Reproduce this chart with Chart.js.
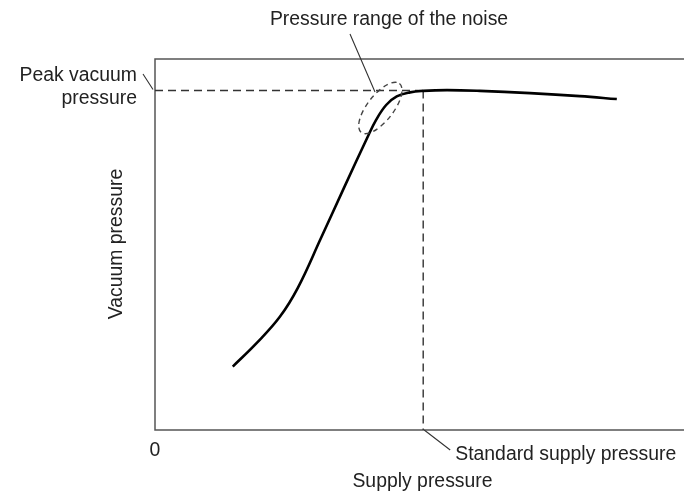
<!DOCTYPE html>
<html>
<head>
<meta charset="utf-8">
<script src="https://cdn.jsdelivr.net/npm/chart.js@4.4.0/dist/chart.umd.min.js"></script>
<style>
  html, body { margin: 0; padding: 0; background: #fff; }
  #wrap { width: 684px; height: 495px; }
</style>
</head>
<body>
<div id="wrap"><canvas id="grafico"></canvas></div>
<script>
// Curva (unidades arbitrárias 0..10)
const supplyPressure = [1.47, 1.92, 2.36, 2.70, 3.14, 3.57, 4.01, 4.18, 4.37, 4.57, 4.82, 5.07, 5.52, 6.14, 7.09, 8.03, 8.73];
const vacuumPressure = [1.71, 2.34, 3.05, 3.83, 5.18, 6.52, 7.87, 8.36, 8.76, 8.99, 9.10, 9.14, 9.16, 9.14, 9.08, 9.00, 8.92];
const peakVacuum = 9.15;
const standardSupply = 5.07;
const noiseCenter = [4.26, 8.68];
const xRange = [0, 10];
const yRange = [0, 10];

const FONT = '19.4px "Liberation Sans", Arial, sans-serif';
const INK = '#222';

// desenha moldura, elipse do ruído e textos
const anotacoes = {
  id: 'anotacoes',
  beforeDatasetsDraw(chart) {
    const { ctx, chartArea: a } = chart;
    ctx.save();
    ctx.strokeStyle = '#555';
    ctx.lineWidth = 1.5;
    ctx.beginPath();
    ctx.moveTo(a.right, a.top);
    ctx.lineTo(a.left, a.top);
    ctx.lineTo(a.left, a.bottom);
    ctx.lineTo(a.right, a.bottom);
    ctx.stroke();
    ctx.restore();
  },
  afterDatasetsDraw(chart) {
    const { ctx, chartArea: a, scales: { x, y } } = chart;
    ctx.save();

    // elipse tracejada
    ctx.strokeStyle = '#444';
    ctx.lineWidth = 1.4;
    ctx.setLineDash([5, 4]);
    ctx.beginPath();
    ctx.ellipse(x.getPixelForValue(noiseCenter[0]), y.getPixelForValue(noiseCenter[1]), 31, 13, -52 * Math.PI / 180, 0, Math.PI * 2);
    ctx.stroke();
    ctx.setLineDash([]);

    // linhas de chamada
    ctx.strokeStyle = '#333';
    ctx.lineWidth = 1.1;
    const px = x.getPixelForValue(standardSupply);
    const py = y.getPixelForValue(peakVacuum);
    ctx.beginPath();
    ctx.moveTo(350, 34); ctx.lineTo(375, 92);
    ctx.moveTo(a.left - 12, 74); ctx.lineTo(a.left - 2, py - 1);
    ctx.moveTo(px + 1, a.bottom); ctx.lineTo(px + 27, a.bottom + 20);
    ctx.stroke();

    // textos
    ctx.fillStyle = INK;
    ctx.font = FONT;
    ctx.textBaseline = 'alphabetic';
    ctx.textAlign = 'center';
    ctx.fillText('Pressure range of the noise', 389, 25);
    ctx.fillText('Supply pressure', (a.left + a.right) / 2 + 3, 487);
    ctx.fillText('0', a.left, 456);
    ctx.textAlign = 'right';
    ctx.fillText('Peak vacuum', 137, 81);
    ctx.fillText('pressure', 137, 104);
    ctx.textAlign = 'left';
    ctx.fillText('Standard supply pressure', px + 32, 460);

    ctx.translate(122, 244);
    ctx.rotate(-Math.PI / 2);
    ctx.textAlign = 'center';
    ctx.fillText('Vacuum pressure', 0, 0);
    ctx.restore();
  }
};

const config = {
  type: 'line',
  data: {
    datasets: [
      {
        data: supplyPressure.map((v, i) => ({ x: v, y: vacuumPressure[i] })),
        borderColor: '#000',
        borderWidth: 2.6,
        pointRadius: 0,
        tension: 0.4,
        fill: false
      },
      {
        data: [{ x: xRange[0], y: peakVacuum }, { x: standardSupply, y: peakVacuum }],
        borderColor: '#333',
        borderWidth: 1.4,
        borderDash: [8, 5],
        pointRadius: 0
      },
      {
        data: [{ x: standardSupply, y: peakVacuum }, { x: standardSupply, y: yRange[0] }],
        borderColor: '#333',
        borderWidth: 1.4,
        borderDash: [8, 5],
        pointRadius: 0
      }
    ]
  },
  options: {
    responsive: true,
    maintainAspectRatio: false,
    animation: false,
    layout: { padding: { left: 155, top: 59, right: 0, bottom: 65 } },
    plugins: { legend: { display: false }, tooltip: { enabled: false } },
    scales: {
      x: { type: 'linear', min: xRange[0], max: xRange[1], display: false },
      y: { type: 'linear', min: yRange[0], max: yRange[1], display: false }
    }
  },
  plugins: [anotacoes]
};

new Chart(document.getElementById('grafico'), config);
</script>
</body>
</html>
